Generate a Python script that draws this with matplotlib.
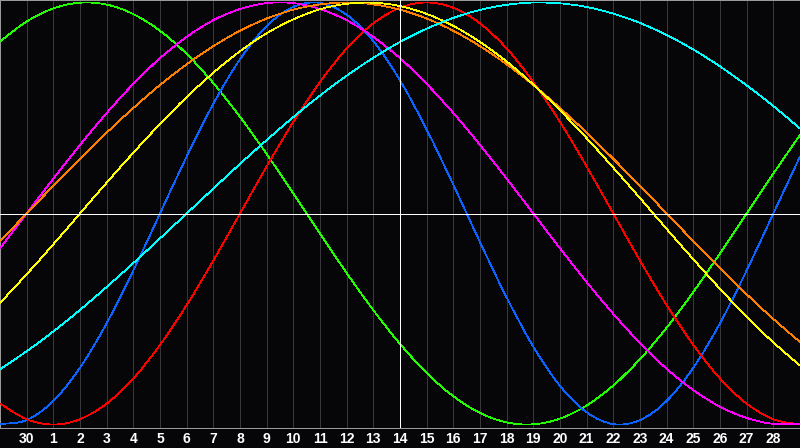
import matplotlib
matplotlib.use("Agg")
import matplotlib.pyplot as plt
from matplotlib.path import Path
from matplotlib.patches import PathPatch

# Day labels under the grid lines (grid positions 1..29)
day_labels = ["30"] + [str(i) for i in range(1, 29)]

# Biorhythm cycle values read at each grid day (positions 0..30)
physical_23 = [-0.998, -0.979, -0.888, -0.731, -0.520, -0.270, 0.0, 0.270, 0.520, 0.731,
               0.888, 0.979, 0.998, 0.942, 0.817, 0.631, 0.398, 0.136, -0.136, -0.398,
               -0.631, -0.817, -0.942, -0.998, -0.979, -0.888, -0.731, -0.520, -0.270, 0.0,
               0.270]
emotional_28 = [-0.901, -0.975, -1.000, -0.975, -0.901, -0.782, -0.623, -0.434, -0.223, 0.0,
                0.223, 0.434, 0.623, 0.782, 0.901, 0.975, 1.000, 0.975, 0.901, 0.782,
                0.623, 0.434, 0.223, 0.0, -0.223, -0.434, -0.623, -0.782, -0.901, -0.975,
                -1.000]
intellectual_33 = [0.815, 0.910, 0.972, 0.999, 0.990, 0.945, 0.866, 0.756, 0.618, 0.458,
                   0.282, 0.095, -0.095, -0.282, -0.458, -0.618, -0.756, -0.866, -0.945, -0.990,
                   -0.999, -0.972, -0.910, -0.815, -0.690, -0.541, -0.372, -0.189, 0.0, 0.189,
                   0.372]
intuitive_38 = [-0.165, 0.0, 0.165, 0.325, 0.476, 0.614, 0.736, 0.837, 0.916, 0.969,
                0.997, 0.997, 0.969, 0.916, 0.837, 0.736, 0.614, 0.476, 0.325, 0.165,
                0.0, -0.165, -0.325, -0.476, -0.614, -0.736, -0.837, -0.916, -0.969, -0.997,
                -0.997]
aesthetic_43 = [-0.424, -0.288, -0.146, 0.0, 0.146, 0.288, 0.424, 0.552, 0.667, 0.769,
                0.854, 0.920, 0.968, 0.994, 0.999, 0.983, 0.946, 0.889, 0.813, 0.720,
                0.611, 0.489, 0.357, 0.217, 0.073, -0.073, -0.217, -0.357, -0.489, -0.611,
                -0.720]
awareness_48 = [-0.131, 0.0, 0.131, 0.259, 0.383, 0.500, 0.609, 0.707, 0.793, 0.866,
                0.924, 0.966, 0.991, 1.000, 0.991, 0.966, 0.924, 0.866, 0.793, 0.707,
                0.609, 0.500, 0.383, 0.259, 0.131, 0.0, -0.131, -0.259, -0.383, -0.500,
                -0.609]
spiritual_53 = [-0.738, -0.653, -0.559, -0.457, -0.348, -0.235, -0.118, 0.0, 0.118, 0.235,
                0.348, 0.457, 0.559, 0.653, 0.738, 0.813, 0.876, 0.927, 0.965, 0.989,
                1.000, 0.996, 0.979, 0.947, 0.903, 0.846, 0.777, 0.697, 0.607, 0.509,
                0.403]

series = [
    (intellectual_33, "#22ff00"),
    (physical_23, "#0a64ff"),
    (emotional_28, "#ff0000"),
    (intuitive_38, "#ff00ff"),
    (awareness_48, "#ff8000"),
    (aesthetic_43, "#ffff00"),
    (spiritual_53, "#00ffff"),
]

BG = "#060609"
LW = 0.72  # one pixel
CURVE_LW = 0.55

fig = plt.figure(figsize=(8, 4.48), dpi=100, facecolor=BG)
ax = fig.add_axes([0, 20 / 448, 1, 428 / 448])
ax.set_facecolor(BG)

ax.set_xlim(0, 30)
ax.set_ylim((213.5 - 428) / 211, 213.5 / 211)


def smooth_path(xs, ys):
    """Smooth curve through the data points (Catmull-Rom as cubic Beziers)."""
    n = len(xs)
    verts = [(xs[0], ys[0])]
    codes = [Path.MOVETO]
    for i in range(n - 1):
        x0, y0 = (xs[i - 1], ys[i - 1]) if i > 0 else (xs[i], ys[i])
        x1, y1 = xs[i], ys[i]
        x2, y2 = xs[i + 1], ys[i + 1]
        x3, y3 = (xs[i + 2], ys[i + 2]) if i + 2 < n else (xs[i + 1], ys[i + 1])
        c1 = (x1 + (x2 - x0) / 6.0, y1 + (y2 - y0) / 6.0)
        c2 = (x2 - (x3 - x1) / 6.0, y2 - (y3 - y1) / 6.0)
        verts += [c1, c2, (x2, y2)]
        codes += [Path.CURVE4, Path.CURVE4, Path.CURVE4]
    return Path(verts, codes)


# grid lines
for k in range(1, 30):
    if k == 15:
        continue
    ax.axvline(k, color="#38383c", lw=LW, antialiased=False, zorder=1)

for vals, col in series:
    xs = list(range(len(vals)))
    patch = PathPatch(smooth_path(xs, vals), facecolor="none", edgecolor=col,
                      lw=CURVE_LW, antialiased=False, zorder=3, transform=ax.transData)
    ax.add_patch(patch)

ax.axhline(0, color="white", lw=LW, antialiased=False, zorder=4)
ax.axvline(15, color="white", lw=LW, antialiased=False, zorder=4)

for s in ax.spines.values():
    s.set_color("#9a9a9a")
    s.set_linewidth(LW)

ax.set_yticks([])
ax.set_xticks(range(1, 30))
ax.set_xticklabels(day_labels, color="white", fontsize=10,
                   fontfamily="Liberation Sans", fontweight="bold")
ax.tick_params(axis="x", length=0, pad=3)

fig.savefig("out.png", dpi=100, facecolor=BG)
